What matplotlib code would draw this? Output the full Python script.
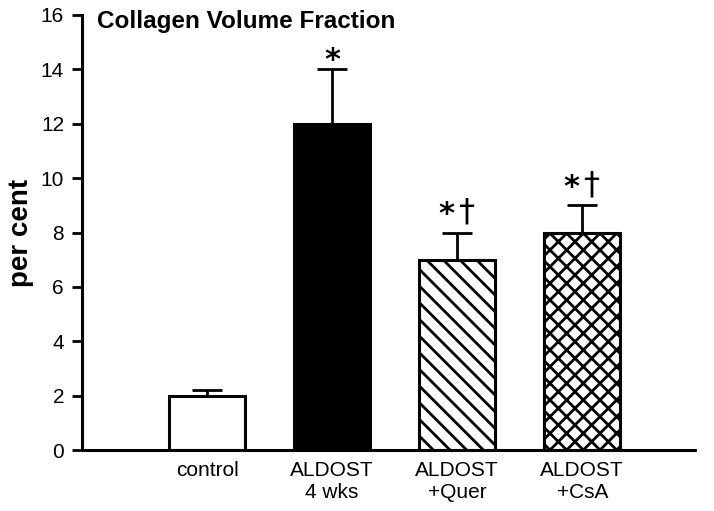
import matplotlib
matplotlib.use('Agg')
import matplotlib.pyplot as plt

groups = ['control', 'ALDOST\n4 wks', 'ALDOST\n+Quer', 'ALDOST\n+CsA']
means = [2.0, 12.0, 7.0, 8.0]
errs = [0.2, 2.0, 1.0, 1.0]
stars = [False, True, True, True]
daggers = [False, False, True, True]
colors = ['white', 'black', 'white', 'white']
hatches = ['', '', '\\\\', 'xx']

plt.rcParams['font.family'] = ['Liberation Sans', 'DejaVu Sans']
plt.rcParams['hatch.linewidth'] = 2.0

fig = plt.figure(figsize=(7.14, 5.11), dpi=100)
ax = fig.add_axes([0.115, 0.119, 0.858, 0.852])

pos = [1, 2, 3, 4]
ax.bar(pos, means, width=0.61, color=colors, edgecolor='black',
       linewidth=2.2, zorder=2)
for b, h in zip(ax.patches, hatches):
    if h:
        b.set_hatch(h)

ax.errorbar(pos, means, yerr=[[0]*4, errs], fmt='none', ecolor='black',
            elinewidth=2.0, capsize=10.5, capthick=2.0, zorder=1)

# significance marks above the error bars
for x, m, e, s, d in zip(pos, means, errs, stars, daggers):
    top = m + e
    if s and not d:
        ax.annotate('*', (x, top), xytext=(0, 6), textcoords='offset points',
                    ha='center', va='center', fontsize=22, fontweight='bold',
                    family=['DejaVu Sans'])
    elif s and d:
        ax.annotate('*', (x, top), xytext=(-7.5, 13), textcoords='offset points',
                    ha='center', va='center', fontsize=22, fontweight='bold',
                    family=['DejaVu Sans'])
        ax.annotate('\u2020', (x, top), xytext=(6.5, 14.5), textcoords='offset points',
                    ha='center', va='center', fontsize=23,
                    family=['DejaVu Sans'])

ax.set_xlim(0, 4.9)
ax.set_ylim(0, 16)
ax.set_yticks(range(0, 17, 2))
ax.set_xticks(pos)
ax.set_xticklabels(groups, fontsize=15)
ax.tick_params(axis='x', length=0, pad=8)
ax.tick_params(axis='y', direction='out', length=7, width=2, labelsize=15, pad=6)

ax.spines['top'].set_visible(False)
ax.spines['right'].set_visible(False)
ax.spines['left'].set_linewidth(2.2)
ax.spines['bottom'].set_linewidth(2.2)

ax.set_ylabel('per cent', fontsize=20, fontweight='bold')
ax.yaxis.set_label_coords(-0.078, 0.5)
ax.text(0.0245, 0.970, 'Collagen Volume Fraction', transform=ax.transAxes,
        fontsize=17.5, fontweight='bold', ha='left', va='baseline')

fig.savefig('out.png', dpi=100)
